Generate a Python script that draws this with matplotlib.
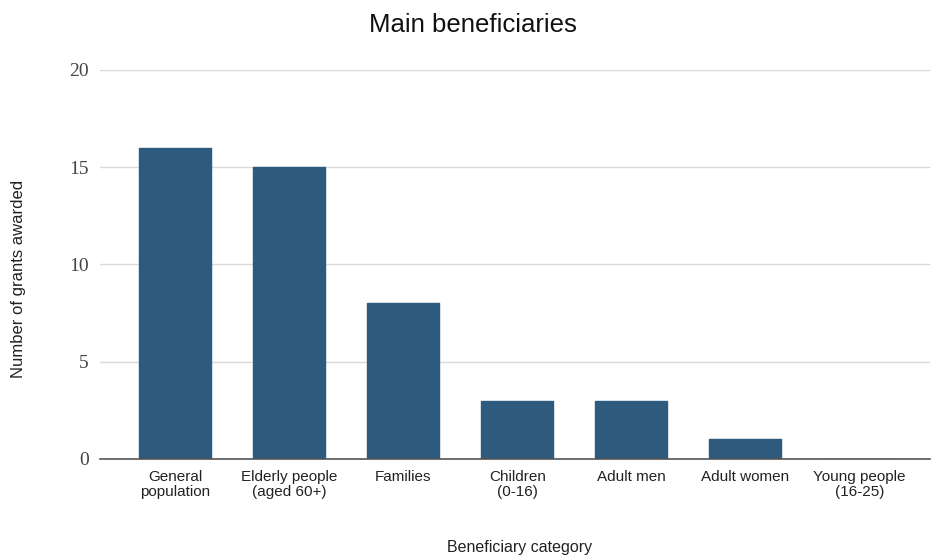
import matplotlib
matplotlib.use("Agg")
import matplotlib.pyplot as plt

categories = ["General\npopulation", "Elderly people\n(aged 60+)", "Families",
              "Children\n(0-16)", "Adult men", "Adult women", "Young people\n(16-25)"]
grants = [16, 15, 8, 3, 3, 1, 0]
y_ticks = [0, 5, 10, 15, 20]

bar_color = "#2e5b7d"

fig = plt.figure(figsize=(9.33, 5.59), dpi=100)
ax = fig.add_axes([0.107, 0.179, 0.89, 0.696])

x = list(range(len(categories)))
ax.bar(x, grants, width=0.63, color=bar_color, edgecolor=bar_color,
       linewidth=1.0, joinstyle="round", zorder=3)

ax.set_xlim(-0.66, 6.62)
ax.set_ylim(0, 20)
ax.set_yticks(y_ticks)
ax.set_yticklabels([str(t) for t in y_ticks], family="Liberation Serif",
                   fontsize=14, color="#444444")
ax.set_xticks(x)
ax.set_xticklabels(categories, family="Liberation Sans", fontsize=11,
                   color="#222222", linespacing=1.05)

ax.tick_params(axis="both", length=0)
ax.tick_params(axis="x", pad=8)
ax.tick_params(axis="y", pad=8)

ax.grid(axis="y", color="#d9d9d9", linewidth=1.0, zorder=0)
for side in ("top", "right", "left"):
    ax.spines[side].set_visible(False)
ax.spines["bottom"].set_color("#555555")
ax.spines["bottom"].set_linewidth(1.2)
ax.spines["bottom"].set_zorder(4)

ax.set_ylabel("Number of grants awarded", family="Liberation Sans",
              fontsize=12, color="#222222", va="center")
ax.yaxis.set_label_coords(-0.098, 0.463)
ax.set_xlabel("Beneficiary category", family="Liberation Sans",
              fontsize=11.5, color="#222222", va="center")
ax.xaxis.set_label_coords(0.505, -0.228)

fig.text(0.507, 0.955, "Main beneficiaries", ha="center", va="center",
         family="Liberation Sans", fontsize=18.5, color="#111111")

fig.savefig("out.png", dpi=100)
